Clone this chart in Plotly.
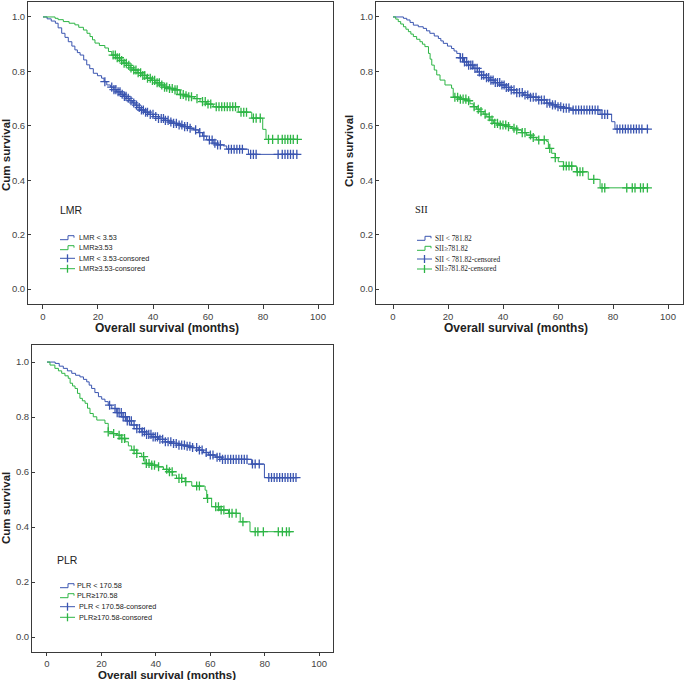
import numpy as np
import plotly.graph_objects as go

BLUE = "#3a55b0"
GREEN = "#2db545"

# ---------------- data ----------------
# Panel 1: LMR
lmr_low_t = [0, 1.5, 3, 4.5, 5.5, 6.8, 8, 9.2, 10.5, 11.6, 12.5, 13.5, 14.8, 15.9, 17, 18.3, 19.8, 21.3, 22.2, 23.2,
             24.5, 25.8, 26.8, 28.2, 29.3, 30.4, 31.5, 32.5, 33.5, 34.5, 35.3, 36.8, 38.5, 40.1, 42, 44, 45.8, 47.4,
             49, 50.8, 52.8, 54.7, 56.5, 58, 59.5, 61.9, 63.5, 65.6, 66.8, 74.7, 92.8]
lmr_low_s = [1.0, 0.993, 0.985, 0.977, 0.96, 0.94, 0.925, 0.909, 0.893, 0.879, 0.869, 0.86, 0.842, 0.824, 0.81, 0.793,
             0.784, 0.775, 0.762, 0.75, 0.742, 0.733, 0.725, 0.716, 0.708, 0.701, 0.692, 0.684, 0.676, 0.667, 0.658,
             0.65, 0.642, 0.634, 0.627, 0.62, 0.614, 0.609, 0.603, 0.597, 0.591, 0.585, 0.575, 0.562, 0.548, 0.536,
             0.53, 0.526, 0.514, 0.495, 0.495]
lmr_high_t = [0, 4.4, 5.5, 7.4, 9.5, 11.6, 13, 14.7, 16, 17.1, 18, 18.9, 20.5, 22.5, 23.8, 25, 26.5, 28, 29.2, 30.5,
              31.7, 32.8, 34.5, 36, 37.7, 39.5, 41, 42.5, 44, 45.8, 47.4, 49.8, 51.5, 52.8, 55, 57.1, 59.5, 61.9, 71,
              75.9, 79.9, 81.1, 92.8]
lmr_high_s = [1.0, 0.995, 0.99, 0.983, 0.977, 0.971, 0.962, 0.952, 0.94, 0.928, 0.916, 0.904, 0.895, 0.886, 0.873,
              0.86, 0.85, 0.84, 0.83, 0.822, 0.813, 0.805, 0.795, 0.785, 0.775, 0.767, 0.758, 0.75, 0.742, 0.737,
              0.732, 0.715, 0.71, 0.707, 0.70, 0.689, 0.68, 0.67, 0.65, 0.628, 0.587, 0.55, 0.55]
lmr_low_cens = [22.5, 25, 25.8, 26.5, 27.3, 28, 28.8, 29.6, 30.2, 31, 32, 33, 34, 35, 35.8, 36.5, 37.3, 38, 39, 40,
                41, 42, 43, 43.8, 44.5, 45.5, 46.5, 47.5, 48.5, 49.5, 50.5, 51.5, 52.5, 53.5, 55.5, 57, 58.5, 60.5,
                61.5, 62.5, 63.5, 64.5, 67.5, 68.5, 69.5, 70.5, 71.5, 72.5, 75.5, 76.5, 77.5, 85.5, 87, 88, 89, 90,
                91, 92.3]
lmr_high_cens = [25.5, 26.3, 27, 27.8, 28.6, 29.5, 30.3, 31.2, 32, 33, 33.8, 34.6, 35.5, 36.3, 37, 38, 39, 39.8,
                 40.6, 41.5, 42.3, 43.2, 44.2, 45, 46, 47, 48, 48.8, 50, 51, 52, 53, 54, 56, 58, 59, 60, 61, 63, 64,
                 65, 66, 67, 68, 69, 70, 72, 73, 74, 76.5, 77.5, 79, 82, 83.5, 85.5, 87, 88, 89, 90, 91, 92.5]

# Panel 2: SII
sii_low_t = [0, 3.8, 5, 6.2, 7.4, 9.2, 11, 12.2, 13.4, 15, 16.5, 17.4, 18.3, 19.8, 21.3, 22.2, 23.2, 24.4, 25.6,
             27.4, 29.2, 30.7, 32.2, 33.8, 35.3, 37, 38.9, 40.7, 42.5, 45, 47.4, 49.8, 52.8, 55.9, 57.7, 59.5, 62,
             64.4, 75.3, 79.5, 80.7, 92.9]
sii_low_s = [1.0, 0.995, 0.989, 0.98, 0.97, 0.964, 0.958, 0.949, 0.94, 0.93, 0.921, 0.912, 0.903, 0.893, 0.884,
             0.875, 0.866, 0.85, 0.835, 0.823, 0.811, 0.798, 0.786, 0.777, 0.768, 0.759, 0.75, 0.741, 0.732, 0.722,
             0.713, 0.705, 0.695, 0.683, 0.677, 0.67, 0.665, 0.658, 0.642, 0.615, 0.588, 0.588]
sii_high_t = [0, 1, 1.9, 2.8, 3.8, 4.7, 5.6, 6.5, 7.4, 8.6, 9.8, 10.7, 11.6, 12.9, 13.5, 14.1, 15, 15.9, 17.1, 18.9,
              21.3, 21.9, 24, 26.8, 28, 29.2, 30.4, 31.6, 32.8, 34.1, 35.3, 36.5, 38.5, 41.3, 43, 45, 46.8, 48.6,
              50.5, 52.2, 55.9, 56.5, 57.7, 59, 60.1, 62, 66.8, 71, 75.3, 92.9]
sii_high_s = [1.0, 0.992, 0.983, 0.974, 0.964, 0.955, 0.946, 0.937, 0.928, 0.918, 0.909, 0.9, 0.891, 0.866, 0.845,
              0.823, 0.805, 0.787, 0.768, 0.75, 0.738, 0.705, 0.698, 0.692, 0.681, 0.67, 0.661, 0.652, 0.643, 0.633,
              0.621, 0.609, 0.603, 0.597, 0.591, 0.585, 0.575, 0.566, 0.557, 0.548, 0.542, 0.517, 0.499, 0.483,
              0.468, 0.452, 0.431, 0.403, 0.372, 0.372]
sii_low_cens = [24.5, 25.3, 26, 26.8, 27.5, 28.3, 29, 29.8, 30.6, 31.4, 32.2, 33, 34, 34.8, 35.6, 36.4, 37.2, 38,
                38.8, 39.6, 40.4, 41.2, 42, 43, 44, 45, 46, 47, 48, 49, 50, 51, 52, 53, 54, 55, 56, 57, 58, 59, 60,
                61, 62, 63, 64, 65.5, 66.5, 67.5, 68.5, 69.5, 70.5, 71.5, 72.5, 73.5, 74.5, 76, 77, 78, 81.5, 82.5,
                83.5, 84.5, 85.5, 86.5, 87.5, 88.5, 89.5, 90.5, 92.5]
sii_high_cens = [22.5, 23.5, 24.5, 25.5, 26.5, 27.5, 29.5, 31, 32, 33.5, 35, 36, 37, 38, 39, 40, 41, 42, 44, 45, 47,
                 48, 50, 51, 53, 55, 57, 59, 62, 63, 64, 65, 67, 68, 69, 73, 76, 77, 85, 87, 88, 90, 91, 92.5]

# Panel 3: PLR
plr_low_t = [0, 3, 4.5, 6, 7.5, 9.1, 10.5, 12.1, 13.4, 14.6, 15.5, 16.4, 17.6, 18.9, 20.1, 21.3, 22.5, 23.8, 25.6,
             27.5, 29.3, 31.1, 33, 34.8, 36.6, 38.5, 41, 43.4, 45.8, 48.3, 50.7, 53.2, 55.6, 57.5, 59.3, 61.8, 64.2,
             75.2, 79.9, 92.4]
plr_low_s = [1.0, 0.995, 0.985, 0.977, 0.968, 0.959, 0.952, 0.946, 0.937, 0.928, 0.916, 0.904, 0.889, 0.874, 0.865,
             0.856, 0.843, 0.831, 0.816, 0.801, 0.786, 0.771, 0.758, 0.746, 0.737, 0.728, 0.719, 0.71, 0.704, 0.698,
             0.694, 0.689, 0.68, 0.671, 0.662, 0.654, 0.646, 0.629, 0.58, 0.58]
plr_high_t = [0, 1.1, 2.9, 4.2, 5.4, 6.6, 7.8, 8.5, 9.4, 10.3, 11.2, 12.1, 13, 14, 14.9, 15.8, 17, 18.3, 21.3, 22.5,
              24, 25.6, 27.2, 28.7, 29.9, 31.1, 33, 34.8, 36, 38.5, 40.9, 42.8, 44.6, 46.1, 47.6, 50.7, 53.2, 58.1,
              58.7, 60.5, 63.5, 66.7, 71, 74.6, 90.6]
plr_high_s = [1.0, 0.989, 0.977, 0.968, 0.959, 0.95, 0.941, 0.923, 0.913, 0.904, 0.886, 0.868, 0.859, 0.85, 0.832,
              0.813, 0.801, 0.789, 0.777, 0.746, 0.74, 0.734, 0.722, 0.71, 0.695, 0.68, 0.668, 0.656, 0.631, 0.625,
              0.619, 0.61, 0.601, 0.589, 0.577, 0.565, 0.549, 0.534, 0.504, 0.474, 0.462, 0.45, 0.419, 0.383, 0.383]
plr_low_cens = [23, 25, 25.8, 26.5, 27.3, 28, 28.8, 29.5, 30.3, 31, 32, 33, 34, 35, 35.8, 36.6, 37.4, 38.2, 39,
                39.8, 40.6, 41.5, 42.5, 43.5, 44.5, 45.5, 46.5, 47.5, 48.5, 49.5, 50.5, 51.5, 52.5, 53.5, 55, 56, 57,
                58.5, 60, 61, 62.5, 63.5, 64.5, 65.5, 66.5, 67.5, 68.5, 69.5, 70.5, 71.5, 72.5, 73.5, 75.5, 76.5, 78,
                81.5, 82.5, 83.5, 84.5, 85.5, 86.5, 87.5, 88.5, 89.5, 90.5, 91.5]
plr_high_cens = [22.5, 24.5, 26.5, 27.5, 28.5, 32, 33, 35.5, 36.5, 37.5, 38.5, 39.5, 41, 44, 45, 46, 48.5, 49.5, 51,
                 55, 56, 59, 62, 63, 64, 65, 67, 68, 69.5, 72, 76.5, 77.5, 79.5, 85, 86.5, 88, 89]

x_ticks = [0, 20, 40, 60, 80, 100]
y_ticks = [0.0, 0.2, 0.4, 0.6, 0.8, 1.0]

group_names = ["LMR", "SII", "PLR"]
legend_labels = [
    ["LMR < 3.53", "LMR\u22653.53", "LMR < 3.53-consored", "LMR\u22653.53-consored"],
    ["SII < 781.82", "SII\u2265781.82", "SII < 781.82-censored", "SII\u2265781.82-censored"],
    ["PLR < 170.58", "PLR\u2265170.58", "PLR < 170.58-consored", "PLR\u2265170.58-consored"],
]
x_title = "Overall survival (months)"
y_title = "Cum survival"

panels_data = [
    (lmr_low_t, lmr_low_s, lmr_low_cens, lmr_high_t, lmr_high_s, lmr_high_cens),
    (sii_low_t, sii_low_s, sii_low_cens, sii_high_t, sii_high_s, sii_high_cens),
    (plr_low_t, plr_low_s, plr_low_cens, plr_high_t, plr_high_s, plr_high_cens),
]

# ---------------- layout geometry (pixels) ----------------
W, H = 685, 680


def px(x):
    return x / W


def py(y):
    return 1 - y / H


geo = [
    dict(frame=(28, 333, 2, 304), xr=[-5.45, 105.45], yr=[-0.055, 1.055], tl=4, ts=12,
         xt=(167, 328), yt=(6, 155), grp=(58, 210), rows=[237.7, 247.7, 258.3, 268.7], ix=60, tx=77,
         gfont="Liberation Sans"),
    dict(frame=(376, 683, 2, 304), xr=[-6.18, 105.45], yr=[-0.055, 1.055], tl=4, ts=12,
         xt=(516, 328), yt=(349, 151), grp=(413, 209), rows=[238.3, 248.3, 259, 269], ix=417, tx=433,
         gfont="Liberation Serif"),
    dict(frame=(32, 333, 345, 652), xr=[-5.51, 105.1], yr=[-0.0545, 1.062], tl=3, ts=11.5,
         xt=(167, 675), yt=(6, 508), grp=(55, 560), rows=[585.7, 595.7, 606.7, 617.3], ix=60, tx=75,
         gfont="Liberation Sans"),
]

fig = go.Figure()


def step_value(t, s, c):
    t = np.asarray(t)
    s = np.asarray(s)
    idx = np.searchsorted(t, np.asarray(c), side="right") - 1
    return s[idx]


annotations = []
shapes = []
for i, (data, g) in enumerate(zip(panels_data, geo)):
    xa = "x" if i == 0 else f"x{i + 1}"
    ya = "y" if i == 0 else f"y{i + 1}"
    lt, ls, lc, ht, hs, hc = data
    for (tt, ss, cc, col) in [(lt, ls, lc, BLUE), (ht, hs, hc, GREEN)]:
        fig.add_trace(go.Scatter(x=tt, y=ss, mode="lines", line=dict(color=col, width=1, shape="hv"),
                                 xaxis=xa, yaxis=ya, showlegend=False, hoverinfo="skip"))
        fig.add_trace(go.Scatter(x=cc, y=step_value(tt, ss, cc), mode="markers",
                                 marker=dict(symbol="cross-thin", size=6.5, line=dict(color=col, width=1.3)),
                                 xaxis=xa, yaxis=ya, showlegend=False, hoverinfo="skip"))
    x0, x1, y0, y1 = g["frame"]
    axkey = "xaxis" if i == 0 else f"xaxis{i + 1}"
    aykey = "yaxis" if i == 0 else f"yaxis{i + 1}"
    fig.layout[axkey] = dict(domain=[px(x0), px(x1)], range=g["xr"], anchor=ya, tickvals=x_ticks,
                             showgrid=False, zeroline=False, showline=True, mirror=True, linecolor="#3a3a3a",
                             linewidth=1, ticks="outside", ticklen=g["tl"], tickcolor="#3a3a3a", automargin=False,
                             tickfont=dict(family="Liberation Sans", size=9.5, color="#444"))
    fig.layout[aykey] = dict(domain=[py(y1), py(y0)], range=g["yr"], anchor=xa, tickvals=y_ticks,
                             tickformat=".1f", showgrid=False, zeroline=False, showline=True, mirror=True,
                             linecolor="#3a3a3a", linewidth=1, ticks="inside", ticklen=3, tickcolor="#3a3a3a",
                             automargin=False,
                             tickfont=dict(family="Liberation Sans", size=9.5, color="#444"))
    # axis titles
    annotations.append(dict(x=px(g["xt"][0]), y=py(g["xt"][1]), xref="paper", yref="paper", text=f"<b>{x_title}</b>",
                            showarrow=False, xanchor="center", yanchor="middle",
                            font=dict(family="Liberation Sans", size=g["ts"], color="#222")))
    annotations.append(dict(x=px(g["yt"][0]), y=py(g["yt"][1]), xref="paper", yref="paper", text=f"<b>{y_title}</b>",
                            showarrow=False, xanchor="center", yanchor="middle", textangle=-90,
                            font=dict(family="Liberation Sans", size=11.5, color="#222")))
    # group name
    annotations.append(dict(x=px(g["grp"][0]), y=py(g["grp"][1]), xref="paper", yref="paper", text=group_names[i],
                            showarrow=False, xanchor="left", yanchor="middle",
                            font=dict(family=g["gfont"], size=10.5, color="#222")))
    # legend entries
    ix = g["ix"]
    for j, (row_y, lab) in enumerate(zip(g["rows"], legend_labels[i])):
        col = BLUE if j % 2 == 0 else GREEN
        if j < 2:
            path = (f"M {px(ix)},{py(row_y + 2)} L {px(ix + 8)},{py(row_y + 2)} L {px(ix + 8)},{py(row_y - 2)} "
                    f"L {px(ix + 14)},{py(row_y - 2)} L {px(ix + 14)},{py(row_y)}")
            shapes.append(dict(type="path", path=path, xref="paper", yref="paper",
                               line=dict(color=col, width=1)))
            tx = g["tx"]
        else:
            shapes.append(dict(type="line", x0=px(ix), x1=px(ix + 15), y0=py(row_y), y1=py(row_y),
                               xref="paper", yref="paper", line=dict(color=col, width=1)))
            shapes.append(dict(type="line", x0=px(ix + 7.5), x1=px(ix + 7.5), y0=py(row_y - 4), y1=py(row_y + 4),
                               xref="paper", yref="paper", line=dict(color=col, width=1.3)))
            tx = g["tx"] + (2 if i == 2 else 0)
        annotations.append(dict(x=px(tx), y=py(row_y), xref="paper", yref="paper", text=lab, showarrow=False,
                                xanchor="left", yanchor="middle",
                                font=dict(family=g["gfont"] if i == 1 else "Liberation Sans", size=7.3,
                                          color="#222")))

fig.update_layout(width=W, height=H, margin=dict(l=0, r=0, t=0, b=0), paper_bgcolor="white",
                  plot_bgcolor="white", showlegend=False, annotations=annotations, shapes=shapes)

fig.write_html("out.html", config={"displayModeBar": False},
               post_script="document.body.style.margin='0px';document.body.style.overflow='hidden';")
